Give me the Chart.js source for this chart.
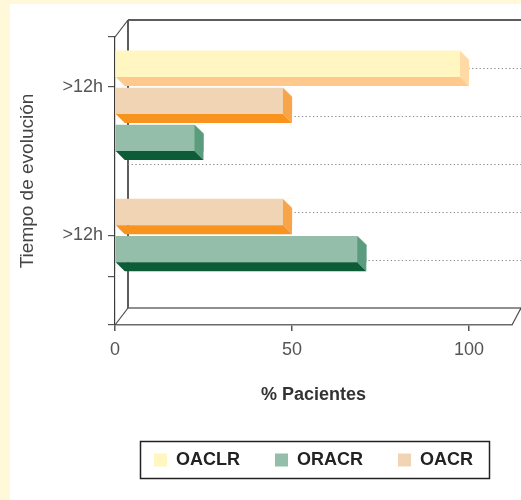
<!DOCTYPE html>
<html>
<head>
<meta charset="utf-8">
<title>Tiempo de evolución</title>
<script src="https://cdn.jsdelivr.net/npm/chart.js@4.4.1/dist/chart.umd.min.js"></script>
<style>
  html, body { margin: 0; padding: 0; background: #fff9da; }
  canvas { display: block; }
</style>
</head>
<body>
<canvas id="chart" width="521" height="500"></canvas>
<script>
// ---- data ----
const categories = ['>12h', '>12h'];
const seriesNames = ['OACLR', 'ORACR', 'OACR'];
const oaclrValues = [100, 0];
const oracrValues = [25, 71];
const oacrValues = [50, 50];
// order of the bars inside each group, top to bottom
const barOrder = [['OACLR', 'OACR', 'ORACR'], ['OACR', 'ORACR', 'OACLR']];
const xTickValues = [0, 50, 100];

// ---- layout / style ----
const ROWS_PER_GROUP = 4;          // three bars plus a gap row
const Y_MIN = -0.726, Y_MAX = 7.043;
const X_MAX = 112.15;
const LABEL_ROW_OFFSET = 0.62;     // category label sits between 1st and 2nd bar
const EXTRA_TICK_ROWS = [5.73];
const WALL_DX = 13, WALL_DY = 17;  // back wall offset
const BAR_DX = 9, BAR_DY = 9;      // bar depth (side and under faces)
const FONT = '"Liberation Sans", Arial, sans-serif';

const palette = {
  OACLR: { face: '#fff6c2', under: '#ffc98e', side: '#ffdaa4' },
  ORACR: { face: '#94bea9', under: '#0d5c38', side: '#5b9b7e' },
  OACR:  { face: '#f1d4b3', under: '#f7931e', side: '#f8a54a' }
};

const valuesBySeries = { OACLR: oaclrValues, ORACR: oracrValues, OACR: oacrValues };
const rowOf = (c, name) => c * ROWS_PER_GROUP + barOrder[c].indexOf(name);
const labelRows = categories.map((_, c) => c * ROWS_PER_GROUP + LABEL_ROW_OFFSET);

const datasets = seriesNames.map(name => ({
  label: name,
  data: categories.map((_, c) => ({ x: valuesBySeries[name][c], y: rowOf(c, name) })),
  backgroundColor: palette[name].face,
  borderWidth: 0,
  barThickness: 26,
  grouped: false
}));

function strokeLine(ctx, x1, y1, x2, y2) {
  ctx.beginPath(); ctx.moveTo(x1, y1); ctx.lineTo(x2, y2); ctx.stroke();
}
function fillPoly(ctx, pts, color) {
  ctx.beginPath();
  ctx.moveTo(pts[0][0], pts[0][1]);
  for (let i = 1; i < pts.length; i++) ctx.lineTo(pts[i][0], pts[i][1]);
  ctx.closePath();
  ctx.fillStyle = color;
  ctx.fill();
}

function visibleBars(chart) {
  const bars = [];
  chart.data.datasets.forEach((ds, di) => {
    const meta = chart.getDatasetMeta(di);
    meta.data.forEach((el, i) => {
      const p = ds.data[i];
      if (p.x > 0) bars.push({ el, row: p.y, colors: palette[ds.label] });
    });
  });
  return bars.sort((a, b) => a.row - b.row);
}

const box3d = {
  id: 'box3d',
  beforeDraw(chart) {
    const { ctx, width, height } = chart;
    ctx.save();
    ctx.fillStyle = '#fff9da';
    ctx.fillRect(0, 0, width, height);
    ctx.fillStyle = '#ffffff';
    ctx.fillRect(10, 4, width - 10, height - 4);
    ctx.restore();
  },
  beforeDatasetsDraw(chart) {
    const { ctx, chartArea: a, width } = chart;
    const bl = a.left + WALL_DX, bt = a.top - WALL_DY, bb = a.bottom - WALL_DY;
    ctx.save();
    // back wall
    ctx.strokeStyle = '#5c5c5c';
    ctx.lineWidth = 2;
    strokeLine(ctx, bl, bt, bl, bb);
    strokeLine(ctx, bl, bt, width, bt);
    ctx.strokeStyle = '#6a6a6a';
    ctx.lineWidth = 1.5;
    strokeLine(ctx, bl, bb, a.right + 9, bb);
    // edges joining the front plane to the back wall
    ctx.lineWidth = 1.2;
    ctx.strokeStyle = '#4a4a4a';
    strokeLine(ctx, a.left, a.top, bl, bt);
    strokeLine(ctx, a.left, a.bottom, bl, bb);
    strokeLine(ctx, a.right, a.bottom, a.right + 9, bb);
    // dotted guide behind every bar
    const bars = visibleBars(chart);
    const step = (bb - bt) / (bars.length + 1);
    ctx.strokeStyle = '#8a8a8a';
    ctx.lineWidth = 1.2;
    ctx.setLineDash([1.3, 2.4]);
    bars.forEach((b, k) => {
      const y = Math.round(bt + (k + 1) * step) + 0.5;
      strokeLine(ctx, bl, y, width, y);
    });
    ctx.restore();
  },
  afterDatasetsDraw(chart) {
    const { ctx } = chart;
    ctx.save();
    visibleBars(chart).forEach(b => {
      const { x, y, base, height } = b.el.getProps(['x', 'y', 'base', 'height'], true);
      const top = y - height / 2, bot = y + height / 2;
      // clear the corner above the slanted end face
      fillPoly(ctx, [[x - BAR_DX, top - 0.5], [x + 1, top - 0.5], [x + 1, top + BAR_DY]], '#ffffff');
      // end face
      fillPoly(ctx, [[x - BAR_DX, top], [x, top + BAR_DY], [x, bot + BAR_DY], [x - BAR_DX, bot]], b.colors.side);
      // under face
      fillPoly(ctx, [[base, bot], [x - BAR_DX, bot], [x, bot + BAR_DY], [base + BAR_DX, bot + BAR_DY]], b.colors.under);
    });
    ctx.restore();
  },
  afterDraw(chart) {
    const lg = chart.legend;
    if (!lg || !lg.legendHitBoxes.length) return;
    const hb = lg.legendHitBoxes;
    const first = hb[0], last = hb[hb.length - 1];
    const left = first.left - 14, right = last.left + last.width + 16;
    const top = first.top - 10, bottom = first.top + first.height + 9;
    const { ctx } = chart;
    ctx.save();
    ctx.strokeStyle = '#222';
    ctx.lineWidth = 1.5;
    ctx.strokeRect(Math.round(left) + 0.5, Math.round(top) + 0.5, Math.round(right - left), Math.round(bottom - top));
    ctx.restore();
  }
};

new Chart(document.getElementById('chart'), {
  type: 'bar',
  data: { datasets },
  plugins: [box3d],
  options: {
    indexAxis: 'y',
    responsive: false,
    animation: false,
    layout: { padding: { left: 0, top: 37, right: 9, bottom: 21 } },
    plugins: {
      tooltip: { enabled: false },
      legend: {
        position: 'bottom',
        fullSize: false,
        labels: {
          boxWidth: 13,
          boxHeight: 13,
          padding: 35,
          color: '#222',
          font: { family: FONT, size: 18, weight: 'bold' }
        }
      }
    },
    scales: {
      x: {
        type: 'linear',
        min: 0,
        max: X_MAX,
        afterBuildTicks: s => { s.ticks = xTickValues.map(v => ({ value: v })); },
        afterFit: s => { s.height = 91; },
        border: { display: true, color: '#6a6a6a', width: 1.5 },
        grid: { drawOnChartArea: false, drawTicks: true, tickLength: 6, tickColor: '#555', lineWidth: 1.5 },
        ticks: { color: '#555', padding: 8, font: { family: FONT, size: 18 }, callback: v => String(v) },
        title: {
          display: true,
          text: '% Pacientes',
          color: '#333',
          padding: { top: 0, bottom: 10 },
          font: { family: FONT, size: 18, weight: 'bold' }
        }
      },
      y: {
        type: 'linear',
        offset: false,
        reverse: true,
        min: Y_MIN,
        max: Y_MAX,
        afterBuildTicks: s => {
          s.ticks = [Y_MIN, ...labelRows, ...EXTRA_TICK_ROWS, Y_MAX].map(v => ({ value: v }));
        },
        afterFit: s => { s.width = 115; },
        border: { display: true, color: '#3a3a3a', width: 1.2 },
        grid: { offset: false, drawOnChartArea: false, drawTicks: true, tickLength: 7, tickColor: '#555', lineWidth: 1.2 },
        ticks: {
          autoSkip: false,
          color: '#555',
          padding: 5,
          font: { family: FONT, size: 18 },
          callback: v => {
            const i = labelRows.findIndex(r => Math.abs(r - v) < 1e-6);
            return i >= 0 ? categories[i] : '';
          }
        },
        title: {
          display: true,
          text: 'Tiempo de evolución',
          color: '#444',
          padding: { top: 16, bottom: 0 },
          font: { family: FONT, size: 19 }
        }
      }
    }
  }
});
</script>
</body>
</html>
